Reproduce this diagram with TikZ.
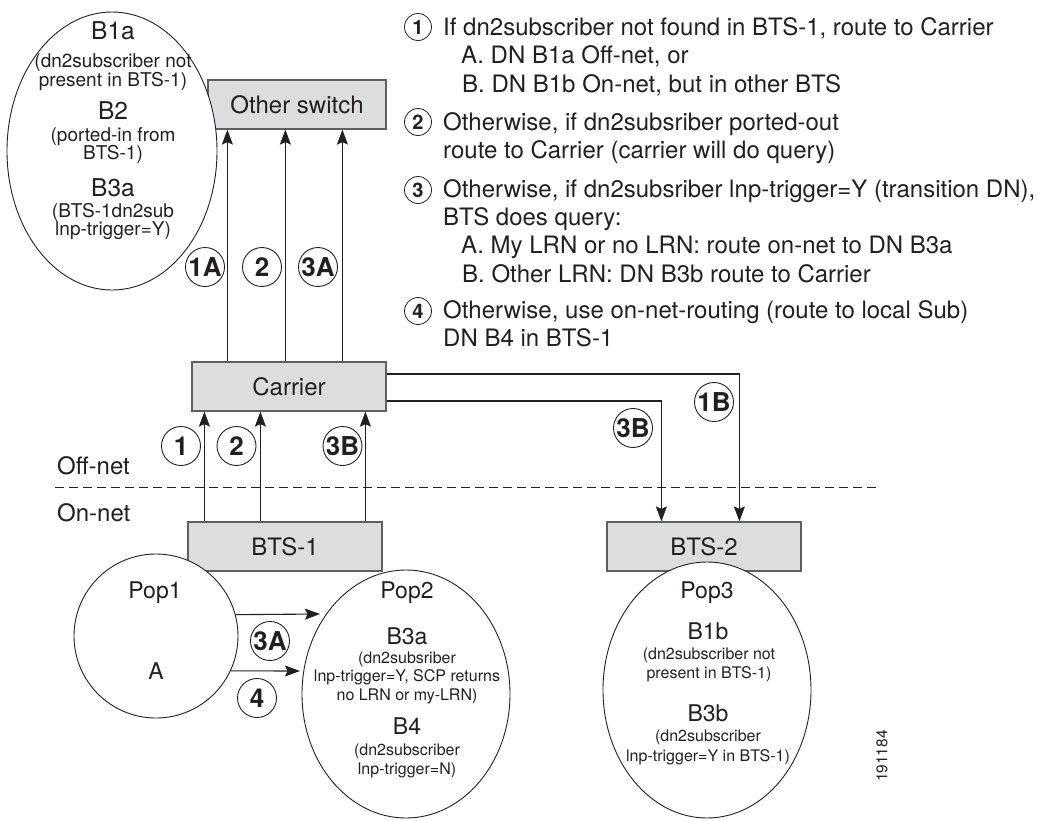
\documentclass[tikz,border=0pt]{standalone}
\usepackage{fontspec}
\setmainfont{TeX Gyre Heros}
\usetikzlibrary{arrows.meta,shapes.geometric}
\definecolor{boxfill}{RGB}{220,221,222}
\definecolor{boxline}{RGB}{95,95,95}
\definecolor{ink}{RGB}{35,31,32}
\begin{document}
\begin{tikzpicture}[x=1pt,y=-1pt,
  box/.style={draw=boxline, fill=boxfill, line width=1.2pt, minimum width=194pt, minimum height=49pt, inner sep=0pt, font=\fontsize{24}{24}\selectfont, text=ink},
  ell/.style={ellipse, draw=ink, fill=white, line width=0.9pt, inner sep=0pt},
  hd/.style={anchor=base, font=\fontsize{23}{23}\selectfont, text=ink, inner sep=0pt},
  sm/.style={anchor=base, font=\fontsize{16}{16}\selectfont, text=ink, inner sep=0pt},
  hdL/.style={anchor=base, font=\fontsize{24.5}{24.5}\selectfont, text=ink, inner sep=0pt},
  smL/.style={anchor=base, font=\fontsize{19}{19}\selectfont, text=ink, inner sep=0pt},
  txt/.style={anchor=base west, font=\fontsize{24}{24}\selectfont, text=ink, inner sep=0pt},
  lbl/.style={circle, draw=ink, fill=white, line width=0.9pt, minimum size=39pt, inner sep=0pt, font=\fontsize{26}{26}\bfseries\selectfont, text=ink},
  lst/.style={circle, draw=ink, line width=0.8pt, minimum size=27pt, inner sep=0pt, font=\fontsize{20}{20}\bfseries\selectfont, text=ink},
  arr/.style={draw=ink, line width=1.1pt, -{Stealth[length=15pt,width=11pt,inset=2.5pt]}},
]
\useasboundingbox (0,0) rectangle (1037,820);

% boxes
\node[box, minimum width=178pt] (other) at (297,104.5) {Other switch};
\node[box] (carrier) at (289,386.5) {Carrier};
\node[box] (bts1) at (285,546.5) {BTS-1};
\node[box] (bts2) at (704,546.5) {BTS-2};

% ellipses
\node[ell, minimum width=210pt, minimum height=278pt] (tl) at (112,151) {};
\node[circle, draw=ink, fill=white, line width=0.9pt, minimum size=164pt, inner sep=0pt] (pop1) at (156,636) {};
\node[ell, minimum width=208pt, minimum height=248pt] (pop2) at (406,694) {};
\node[ell, minimum width=208pt, minimum height=256pt] (pop3) at (707,690) {};

% top-left ellipse text
\node[hdL] (tB1a) at (113,39) {B1a};
\node[smL] (tB1a1) at (113,67) {(dn2subscriber not};
\node[smL] (tB1a2) at (113,86) {present in BTS-1)};
\node[hdL] (tB2) at (113,119) {B2};
\node[smL] (tB21) at (113,141) {(ported-in from};
\node[smL] (tB22) at (113,159) {BTS-1)};
\node[hdL] (tB3a) at (113,196) {B3a};
\node[smL] (tB3a1) at (113,217) {(BTS-1dn2sub};
\node[smL] (tB3a2) at (113,235) {lnp-trigger=Y)};

% Pop1
\node[hd] (p1t) at (155,598) {Pop1};
\node[hd] (p1a) at (156,679) {A};

% Pop2
\node[hd] (p2t) at (407,598) {Pop2};
\node[hd] (p2b3a) at (407,644) {B3a};
\node[sm] (p2s1) at (407,663) {(dn2subsriber};
\node[sm] (p2s2) at (407,681) {lnp-trigger=Y, SCP returns};
\node[sm] (p2s3) at (407,700) {no LRN or my-LRN)};
\node[hd] (p2b4) at (407,734) {B4};
\node[sm] (p2s4) at (407,755) {(dn2subscriber};
\node[sm] (p2s5) at (407,774) {lnp-trigger=N)};

% Pop3
\node[hd] (p3t) at (707,598) {Pop3};
\node[hd] (p3b1b) at (708,639) {B1b};
\node[sm] (p3s1) at (709,659) {(dn2subscriber not};
\node[sm] (p3s2) at (709,678) {present in BTS-1)};
\node[hd] (p3b3b) at (708,721) {B3b};
\node[sm] (p3s3) at (708,741) {(dn2subscriber};
\node[sm] (p3s4) at (708,761) {lnp-trigger=Y in BTS-1)};

% Off-net / On-net and dashed line
\coordinate (dl) at (55,487);
\coordinate (dr) at (876,487);
\draw[draw=ink, line width=1pt, dash pattern=on 8.5pt off 5.5pt] (dl) -- (dr);
\node[txt] (offnet) at (57,474) {Off-net};
\node[txt] (onnet) at (57,521) {On-net};

% arrows carrier -> other switch
\draw[arr] ([xshift=36pt]carrier.north west) -- ([xshift=20pt]other.south west);
\draw[arr] ([xshift=94pt]carrier.north west) -- ([xshift=78pt]other.south west);
\draw[arr] ([xshift=151pt]carrier.north west) -- ([xshift=135pt]other.south west);

% arrows bts1 -> carrier
\draw[arr] ([xshift=17pt]bts1.north west) -- ([xshift=13pt]carrier.south west);
\draw[arr] ([xshift=73pt]bts1.north west) -- ([xshift=69pt]carrier.south west);
\draw[arr] ([xshift=178pt]bts1.north west) -- ([xshift=174pt]carrier.south west);

% carrier -> bts2
\draw[arr] ([yshift=12.5pt]carrier.east) -| ([xshift=133pt]bts2.north west);
\draw[arr] ([yshift=-14.5pt]carrier.east) -| ([xshift=55pt]bts2.north west);

% pop1 -> pop2
\coordinate (p2a) at (320,614);
\coordinate (p2b) at (300,671);
\draw[arr] (pop1.15.6) -- (p2a);
\draw[arr] (pop1.-25.3) -- (p2b);

% circled labels
\node[lbl] (l1A) at (205,267) {1A};
\node[lbl] (l2u) at (262,267) {2};
\node[lbl] (l3A) at (318,267) {3A};
\node[lbl] (l1) at (181,446) {1};
\node[lbl] (l2) at (236.5,446) {2};
\node[lbl] (l3B) at (342.5,446) {3B};
\node[lbl] (l3Br) at (633,428) {3B};
\node[lbl] (l1B) at (714,402) {1B};
\node[lbl] (l3Ap) at (270,641) {3A};
\node[lbl] (l4p) at (257,698) {4};

% list
\node[lst] (n1) at (418,27) {1};
\node[txt] (r1) at (443,35) {If dn2subscriber not found in BTS-1, route to Carrier};
\node[txt] (r1a) at (461,63) {A. DN B1a Off-net, or};
\node[txt] (r1b) at (462,92) {B. DN B1b On-net, but in other BTS};
\node[lst] (n2) at (418,122) {2};
\node[txt] (r2) at (443,130) {Otherwise, if dn2subsriber ported-out};
\node[txt] (r2b) at (443,158) {route to Carrier (carrier will do query)};
\node[lst] (n3) at (418,190) {3};
\node[txt] (r3) at (443,197) {Otherwise, if dn2subsriber lnp-trigger=Y (transition DN),};
\node[txt] (r3b) at (443,225) {BTS does query:};
\node[txt] (r3c) at (461,253) {A. My LRN or no LRN: route on-net to DN B3a};
\node[txt] (r3d) at (462,282) {B. Other LRN: DN B3b route to Carrier};
\node[lst] (n4) at (418,311) {4};
\node[txt] (r4) at (443,318) {Otherwise, use on-net-routing (route to local Sub)};
\node[txt] (r4b) at (443,346) {DN B4 in BTS-1};

% figure number
\node[rotate=90, font=\fontsize{15.5}{15.5}\selectfont, text=ink, inner sep=0pt] (fignum) at (882,756) {191184};
\end{tikzpicture}
\end{document}
